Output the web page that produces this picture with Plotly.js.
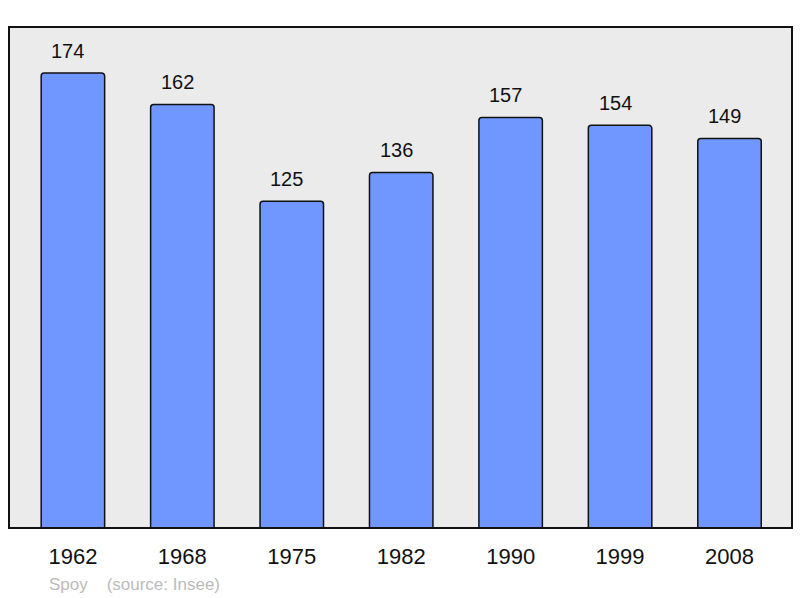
<!DOCTYPE html>
<html>
<head>
<meta charset="utf-8">
<script src="https://cdn.plot.ly/plotly-3.0.1.min.js"></script>
<style>html,body{margin:0;padding:0;background:#fff;}#chart{width:800px;height:598px;}</style>
</head>
<body>
<div id="chart"></div>
<script>
const years = ["1962", "1968", "1975", "1982", "1990", "1999", "2008"];
const population = [174, 162, 125, 136, 157, 154, 149];
const footerText = "Spoy    (source: Insee)";

const FONT = "Liberation Sans, Arial, sans-serif";

const trace = {
  type: "bar",
  x: years,
  y: population,
  width: 0.58,
  marker: {color: "#7096ff", line: {color: "#111", width: 1.5}, cornerradius: 3},
  text: population.map(String),
  textposition: "none",
  hoverinfo: "none"
};

const plotH = 598 - 27 - 70, plotW = 800 - 9 - 8;

const annotations = population.map((v, i) => ({
  x: i, y: v, xref: "x", yref: "y",
  text: String(v), showarrow: false,
  xanchor: "center", yanchor: "bottom", yshift: 9, xshift: -5,
  font: {family: FONT, size: 20, color: "#111"}
}));
annotations.push({
  x: (47 - 9) / plotW, y: (528 - 584) / plotH, xref: "paper", yref: "paper",
  xanchor: "left", yanchor: "middle",
  text: footerText, showarrow: false,
  font: {family: FONT, size: 17, color: "#bbbbbb"}
});

const layout = {
  width: 800, height: 598,
  margin: {l: 9, r: 8, t: 27, b: 70},
  paper_bgcolor: "#ffffff",
  plot_bgcolor: "#ebebeb",
  showlegend: false,
  xaxis: {
    type: "category", range: [-0.584, 6.571],
    showgrid: false, zeroline: false, showline: false,
    ticks: "", ticklabelstandoff: 13,
    tickfont: {family: FONT, size: 22, color: "#111"}
  },
  yaxis: {
    range: [0, 191.6], showgrid: false, zeroline: false, showline: false,
    showticklabels: false, ticks: ""
  },
  annotations: annotations,
  shapes: [{
    type: "rect", xref: "paper", yref: "paper", x0: 0, x1: 1, y0: 0, y1: 1,
    line: {color: "#111", width: 2}, fillcolor: "rgba(0,0,0,0)", layer: "above"
  }]
};

Plotly.newPlot("chart", [trace], layout, {staticPlot: true, displayModeBar: false});
</script>
</body>
</html>
